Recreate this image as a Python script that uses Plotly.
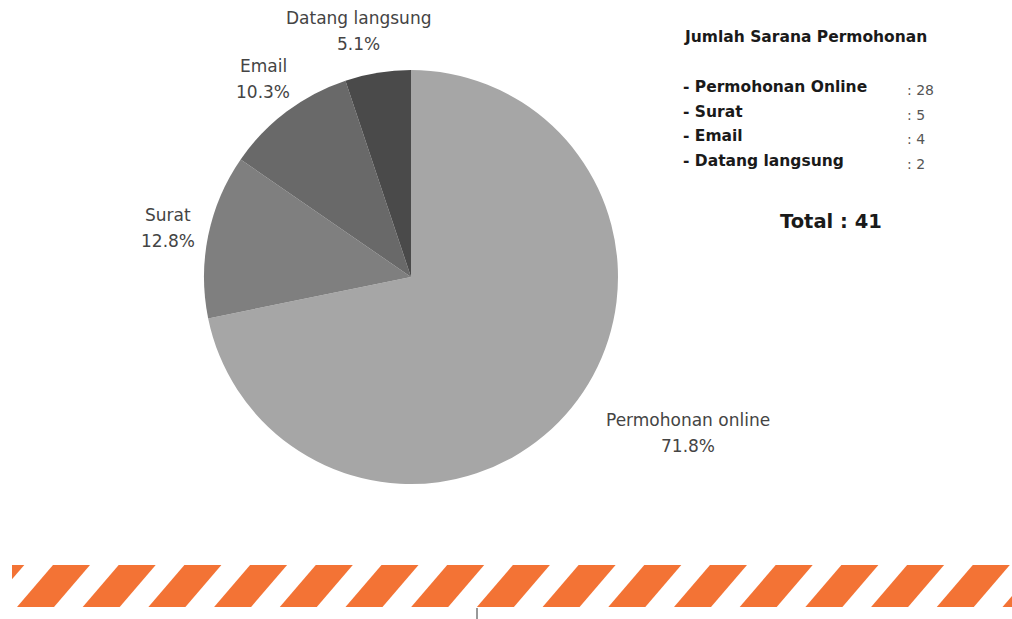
import plotly.graph_objects as go

# ---- data ----
categories = ["Permohonan online", "Surat", "Email", "Datang langsung"]
values = [28, 5, 4, 2]
slice_colors = ["#a6a6a6", "#7f7f7f", "#696969", "#4a4a4a"]

panel_title = "Jumlah Sarana Permohonan"
panel_labels = ["Permohonan Online", "Surat", "Email", "Datang langsung"]
panel_values = [28, 5, 4, 2]
panel_total = 41

W, H = 1012, 619

def px(x):
    return x / W

def py(y):
    return 1 - y / H

fig = go.Figure()
fig.add_trace(go.Pie(
    labels=categories, values=values, sort=False, direction="clockwise", rotation=0,
    marker=dict(colors=slice_colors, line=dict(width=0)),
    textinfo="none", hoverinfo="label+percent", showlegend=False,
    domain=dict(x=[px(204), px(618)], y=[py(484), py(70)]),
))

total = sum(values)
label_pos = {
    "Permohonan online": (688, 420),
    "Surat": (168, 215),
    "Email": (263, 66),
    "Datang langsung": (358, 18),
}
annotations = []
FONT = "DejaVu Sans, Liberation Sans, Arial, sans-serif"
lab_font = dict(family=FONT, size=17, color="#444444")
for cat, v in zip(categories, values):
    x, y = label_pos[cat]
    annotations.append(dict(x=px(x), y=py(y), xref="paper", yref="paper", text=cat,
                            showarrow=False, font=lab_font, xanchor="center", yanchor="middle"))
    annotations.append(dict(x=px(x), y=py(y + 26), xref="paper", yref="paper",
                            text=f"{100 * v / total:.1f}%",
                            showarrow=False, font=lab_font, xanchor="center", yanchor="middle"))

bold_font = dict(family=FONT, size=15.5, color="#1a1a1a")
annotations.append(dict(x=px(682), y=py(37), xref="paper", yref="paper", text=f"<b>{panel_title}</b>",
                        showarrow=False, font=bold_font, xanchor="left", yanchor="middle"))
for i, (lab, v) in enumerate(zip(panel_labels, panel_values)):
    yy = 87 + i * 24.7
    annotations.append(dict(x=px(681), y=py(yy), xref="paper", yref="paper", text=f"<b>- {lab}</b>",
                            showarrow=False, font=bold_font, xanchor="left", yanchor="middle"))
    annotations.append(dict(x=px(905), y=py(yy + 3), xref="paper", yref="paper", text=f": {v}",
                            showarrow=False,
                            font=dict(family=FONT, size=14, color="#555555"),
                            xanchor="left", yanchor="middle"))
annotations.append(dict(x=px(831), y=py(221), xref="paper", yref="paper", text=f"<b>Total : {panel_total}</b>",
                        showarrow=False,
                        font=dict(family=FONT, size=19.5, color="#1a1a1a"),
                        xanchor="center", yanchor="middle"))

# ---- decorative stripe band ----
def clip_poly(poly, xmin, xmax):
    def clip(pts, keep, inter):
        out = []
        n = len(pts)
        for i in range(n):
            a, b = pts[i], pts[(i + 1) % n]
            ka, kb = keep(a), keep(b)
            if ka:
                out.append(a)
            if ka != kb:
                out.append(inter(a, b))
        return out
    def ix(xc):
        def f(a, b):
            t = (xc - a[0]) / (b[0] - a[0])
            return (xc, a[1] + t * (b[1] - a[1]))
        return f
    pts = clip(poly, lambda p: p[0] >= xmin, ix(xmin))
    if pts:
        pts = clip(pts, lambda p: p[0] <= xmax, ix(xmax))
    return pts

shapes = []
top, bot = 565, 607
period, width, slant = 65.7, 37, 36
k = -1
while True:
    x0 = 53 + k * period
    if x0 - slant > W:
        break
    poly = [(x0, top), (x0 + width, top), (x0 + width - slant, bot), (x0 - slant, bot)]
    pts = clip_poly(poly, 12, W)
    if len(pts) >= 3:
        path = "M " + " L ".join(f"{px(x):.5f},{py(y):.5f}" for x, y in pts) + " Z"
        shapes.append(dict(type="path", path=path, xref="paper", yref="paper",
                           fillcolor="#f37335", line=dict(width=0), layer="above"))
    k += 1

shapes.append(dict(type="line", x0=px(477), x1=px(477), y0=py(608), y1=py(619),
                   xref="paper", yref="paper", line=dict(color="#333333", width=1)))

fig.update_layout(
    width=W, height=H, margin=dict(l=0, r=0, t=0, b=0),
    paper_bgcolor="white", plot_bgcolor="white",
    annotations=annotations, shapes=shapes,
)
fig.write_html("out.html")
